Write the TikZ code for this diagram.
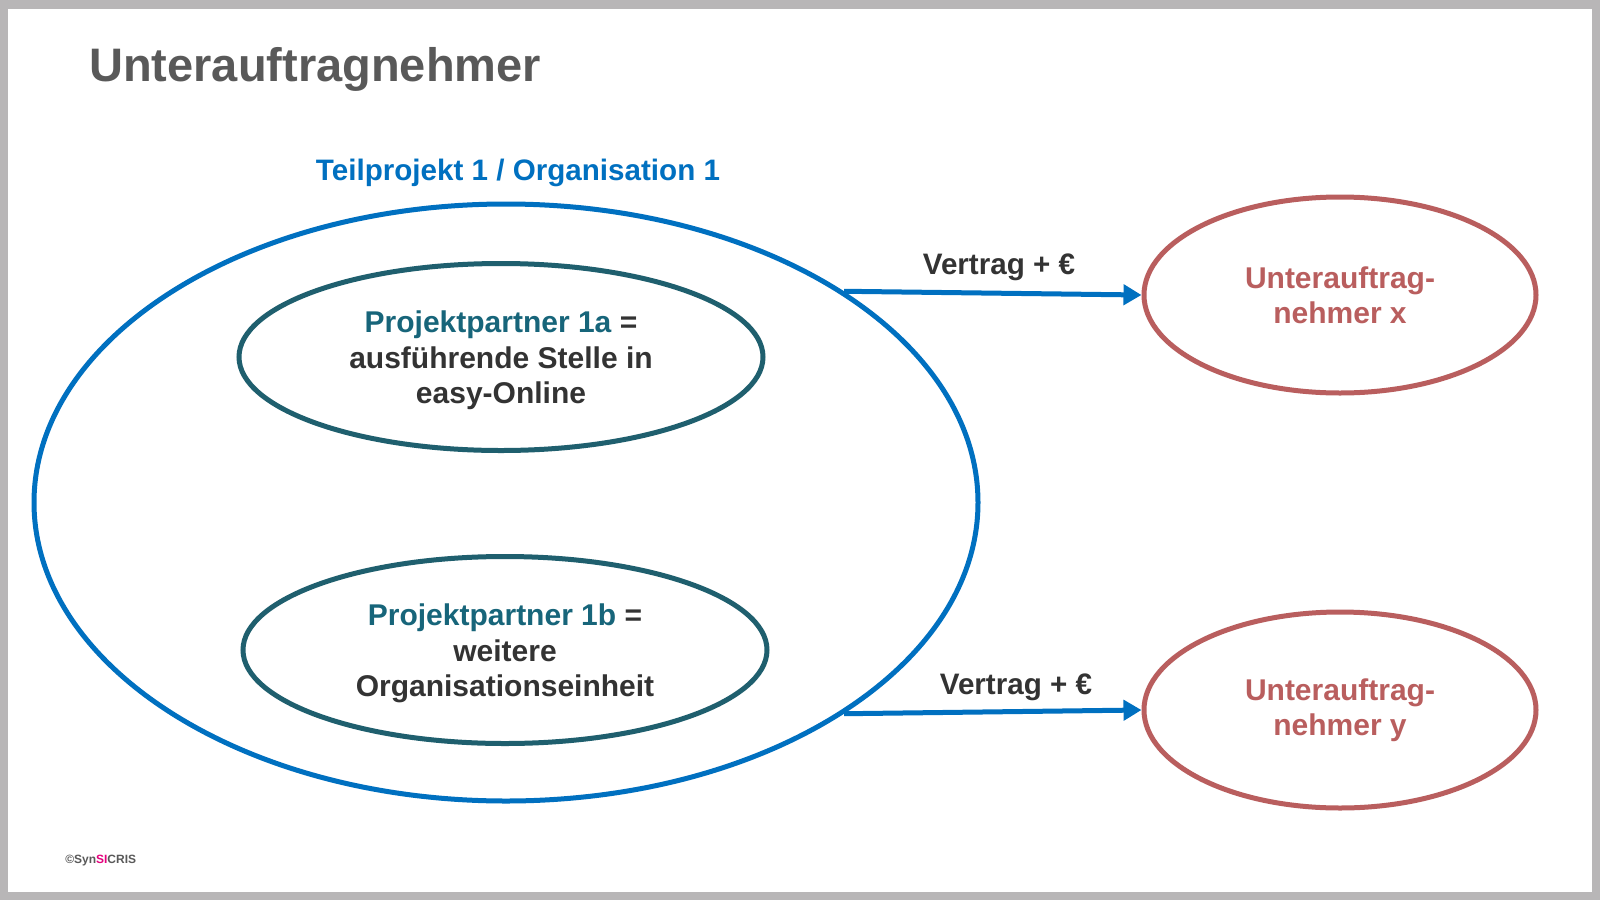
\documentclass[tikz,border=0pt]{standalone}
\usepackage{fontspec}
\setmainfont{Liberation Sans}
\usetikzlibrary{shapes.geometric,arrows.meta}
\definecolor{frame}{HTML}{B8B6B7}
\definecolor{blueC}{HTML}{0070C0}
\definecolor{tealC}{HTML}{1F5F6E}
\definecolor{tealT}{HTML}{17657A}
\definecolor{redC}{HTML}{B95E5E}
\definecolor{darkT}{HTML}{333333}
\definecolor{titleT}{HTML}{595959}
\definecolor{pinkC}{HTML}{E5007D}
\begin{document}
\begin{tikzpicture}[x=0.75pt,y=-0.75pt,
  oval/.style={ellipse,draw,line width=3.75pt,inner sep=0pt},
  bigoval/.style={oval,draw=blueC,minimum width=708pt,minimum height=447.75pt},
  partner/.style={oval,draw=tealC,minimum width=393pt,minimum height=140.25pt},
  sub/.style={oval,draw=redC,minimum width=294pt,minimum height=147pt},
  otext/.style={inner sep=0pt,align=center,yshift=-2.6pt,
    font=\fontsize{22.5}{26.8}\selectfont\bfseries},
  arr/.style={draw=blueC,line width=3.75pt,-{Triangle[length=13.5pt,width=15pt]}},
  lbl/.style={inner sep=0pt,yshift=-2.6pt,font=\fontsize{22.2}{26}\selectfont\bfseries}]
\fill[frame] (0,0) rectangle (1600,900);
\fill[white] (8,9) rectangle (1592,892);
\path[use as bounding box] (0,0) rectangle (1600,900);

\node[anchor=base west,inner sep=0pt,text=titleT,font=\fontsize{35.25}{40}\selectfont\bfseries] (title) at (89,81) {Unterauftragnehmer};

\node[lbl,text=blueC] (tp) at (518,169) {Teilprojekt 1 / Organisation 1};

\node[bigoval] (big) at (506,502.5) {};
\node[partner] (pa) at (501,357) {};
\node[partner] (pb) at (505,650) {};
\node[otext,text=darkT] (pat) at (pa.center) {\textcolor{tealT}{Projektpartner 1a} =\\ausführende Stelle in\\easy-Online};
\node[otext,text=darkT] (pbt) at (pb.center) {\textcolor{tealT}{Projektpartner 1b} =\\weitere\\Organisationseinheit};

\node[sub] (ux) at (1340,295) {};
\node[sub] (uy) at (1340,710) {};
\node[otext,text=redC,yshift=2.4pt] (uxt) at (ux.center) {Unterauftrag-\\nehmer x};
\node[otext,text=redC,yshift=2.4pt] (uyt) at (uy.center) {Unterauftrag-\\nehmer y};

\draw[arr] (big.32) -- (ux.west);
\draw[arr] (big.-32) -- (uy.west);

\node[lbl,text=darkT] (v1) at (999,264) {Vertrag + €};
\node[lbl,text=darkT] (v2) at (1016,684) {Vertrag + €};

\node[anchor=west,inner sep=0pt,font=\fontsize{9}{11}\selectfont\bfseries,text=titleT] (copy) at (65,861) {©Syn\textcolor{pinkC}{SI}CRIS};
\end{tikzpicture}
\end{document}
